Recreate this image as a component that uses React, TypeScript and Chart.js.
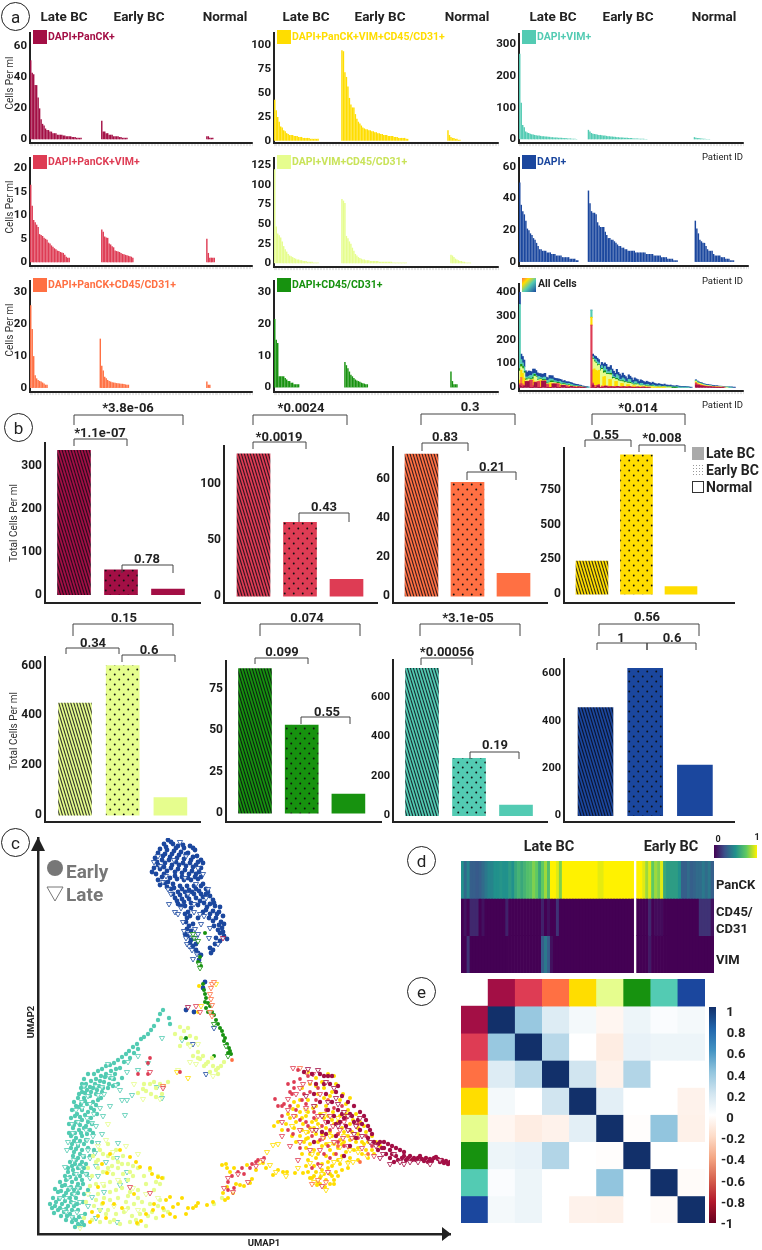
import React, { useEffect, useRef } from "react";
import { Chart, registerables } from "chart.js";
Chart.register(...registerables);
Chart.defaults.font.family = "Roboto";
Chart.defaults.animation = false as any;

const MAROON = "#a30f45", RED = "#de3c54", ORANGE = "#ff7043", YELLOW = "#ffdd00";
const LIME = "#e6fd8e", GREEN = "#17920f", TEAL = "#53cbb3", BLUE = "#1b479e";

// ---- Panel a values (cells per ml, sorted per patient) ----
const a1Late = [51,43,42,35,35,27,20,13,10,9,7,6,6,5,5,4,4,4,3,3,3,3,2.5,2.5,2,2,2,2,1.5,1.5,1.5,1,1,1,1];
const a1Early = [12,5,5,4,4,3,3,3,2,2,2,2,1.5,1.5,1,1,1,1];
const a1Normal = [2,2,1,1,1];
const a2Late = [16.5,12,9,8.5,8,7.5,6,5.8,5.6,5.2,5,4.8,4.2,4,3.6,3.3,3,2.8,2.5,2.4,2.2,2.1,2,1.6,1.2,1,1];
const a2Early = [7,6.5,5.5,5.3,5.2,4,3.8,3.4,3.2,2.5,2.4,2.3,2.2,2,1.8,1.7,1.6,1.5,1.4,1.3,1.2,1];
const a2Normal = [5,2,1,1,1,1];
const a3Late = [26,18.5,10,4,3,2.5,2.2,2,1.7,1.4,1,1];
const a3Early = [15.5,7,5.5,3.5,3,2.5,2.2,2,1.8,1.7,1.6,1.5,1.5,1.4,1.3,1.3,1.2,1.1,1,1];
const a3Normal = [2,1,1];
const a4Late = [43,32,25,20,15,14,11,10,8,7,6,6,6,5,5,5,4,4,4,3,3,3,3,3,2,2,2,2,2,2];
const a4Early = [95,94,72,67,57,45,38,35,35,28,23,20,18,16,14,13,12,12,11,11,10,10,9,9,8,8,7,7,6,6,6,5,5,5,5,4,4,4,3,3,3,3,3,2,2];
const a4Normal = [11,6,4,3,3,2,2,1,1];
const a5Late = [120,47,38,36,33,28,22,18,15,12,10,9,8,7,6,5,5,4,4,3,3,3,2,2,2,2,1,1,1,1];
const a5Early = [82,80,77,35,32,28,25,20,16,12,10,8,7,6,5,5,4,4,4,3,3,3,3,3,3,2,2,2,2,2,2,2,2,2,1,1,1,1,1,1,1,1,1,1];
const a5Normal = [11,10,8,6,5,4,3,3,2,2,1,1,1,1];
const a6Late = [21.5,15,14,3.5,3.5,3.5,3.5,3,2.5,2,2,1.5,1.5,1,1,1,1];
const a6Early = [8,7,6,5,4,3.5,3,2.5,2.2,2,1.8,1.5,1.3,1.2,1,1];
const a6Normal = [5,2,1,1,1];
const a7Late = [270,115,45,38,25,22,20,18,16,15,14,13,12,12,11,10,10,9,9,8,8,7,7,6,6,6,5,5,5,4,4,4,3,3,3,2,2,2,1];
const a7Early = [30,25,20,18,17,16,15,14,14,13,12,12,11,10,10,9,9,8,8,7,7,6,6,6,5,5,5,4,4,4,3,3,3,3,2,2,2,2,1,1];
const a7Normal = [7,5,4,4,3,3,2,2,1,1,1];
const a8Late = [50,36,32,30,26,21,20,18,17,15,14,12,10,8,8,7,7,7,6,6,6,5,5,5,4,4,4,4,3,3,3,3,3,2,2,2,2,1,1];
const a8Early = [45,37,32,31,31,30,25,23,22,22,22,19,17,15,15,14,14,13,12,11,10,10,9,9,8,8,7,7,7,7,7,6,6,6,6,6,6,6,5,5,5,5,5,4,4,4,4,4,3,3,3,3,2,2,2,2,1,1,1];
const a8Normal = [26,21,18,14,13,12,12,10,8,7,7,7,5,4,4,4,4,3,3,3,2,2,2,1,1,1];

// All cells (stacked, one list per phenotype per group)
const allMaroonLate = [8,4,0,6,24,24,24,0,0,0,20,20,0,0,0,26,26,26,0,0,0,0,14,14,14,0,0,0,8,8,8,0,0,0,4,4,0,0,0,2,2,0,0,1,1];
const allRedLate = [5,12,9,0,0,0,0,30,30,6,0,0,24,24,0,0,0,0,12,12,0,0,0,0,0,14,14,0,0,0,0,6,6,0,0,0,3,3,0,0,0,1,1];
const allOrangeLate = [4,26,6,3,0,2,2,0,0,3,3,0,0,2,2,0,0,2,2,0,0,1,1,0,0,1,1,0,0,1,1,0,0,1];
const allYellowLate = [14,30,44,30,0,0,0,0,0,24,0,0,0,0,30,0,0,0,0,0,18,18,0,0,0,0,0,12,0,0,0,0,0,6,0,0,0,0,3,0,0,0,0];
const allLimeLate = [38,15,20,22,6,6,10,2,2,2,24,24,6,6,2,2,2,2,2,2,2,2,6,6,6,2,2,3,3,3,3,2,2,2,2,2,1,1,1,1,1,1];
const allGreenLate = [10,10,10,6,6,3,3,4,4,8,8,3,3,2,2,5,5,3,3,2,2,6,6,2,2,4,4,2,2,3,3,1,1,2,2,1,1,1,1,1,1,1];
const allTealLate = [270,20,14,20,8,8,8,14,14,14,4,4,12,12,6,6,10,10,10,14,14,8,8,6,6,3,3,9,9,4,4,7,7,6,6,5,5,3,3,3,2,2,2,1,1,1,1];
const allBlueLate = [51,23,27,28,26,20,22,18,16,20,18,20,16,12,16,16,14,16,14,10,14,14,14,12,10,13,12,8,10,7,10,8,8,6,7,7,6,6,5,5,4,4,3,3,2,2,1];
const allMaroonEarly = [0,10,0,0,6,6,0,0,0,5,5,0,0,2,2,0,0,3,3,0,0,2,2,0,0,2,2,0,0,0,1,1,0,0,1,1,0,0,1,1];
const allRedEarly = [262,6,8,0,3,5,0,4,4,0,0,4,4,0,0,3,3,0,0,2,2,0,0,2,2,0,0,1,1,0,0,1,1,0,0,1,1];
const allOrangeEarly = [0,3,0,2,0,1,0,2,0,1,0,1,0,1,0,1,0,0,1,0,1,0,0,1,0,0,1,0,0,1];
const allYellowEarly = [33,55,70,70,60,60,0,0,40,40,0,0,30,30,0,0,22,22,0,0,14,14,0,0,10,10,0,0,6,6,0,0,4,4,0,0,3,3,0,0,2,2,0,0,1,1,0,0,1,1];
const allLimeEarly = [0,45,30,30,22,22,70,70,16,16,50,50,20,20,34,34,8,8,24,24,8,8,18,18,6,6,14,14,4,4,10,10,3,3,6,6,2,2,4,4,2,2,3,3,1,1,2,2,1,1,1,1,1,1];
const allGreenEarly = [0,3,4,3,5,3,4,4,8,8,3,3,4,6,6,3,3,5,5,2,2,4,4,2,2,4,4,2,2,3,3,2,1,2,2,1,2,1,1,1,1,2,1,1,1,1,1,1,1,1,0,1,1,1,0,1,0,1];
const allTealEarly = [30,8,8,12,12,6,6,11,11,18,18,8,8,14,14,5,5,16,16,6,6,12,12,3,3,12,12,4,4,10,10,3,3,8,8,2,2,7,7,2,2,5,5,2,2,4,4,1,1,3,3,1,1,2,2,1,1,2,2,1,1,1,1,1,1,1];
const allBlueEarly = [0,10,13,13,15,14,14,14,19,15,21,19,19,19,21,22,18,22,14,22,16,20,15,19,14,19,14,19,13,16,12,16,13,15,12,14,11,13,10,13,10,11,9,10,8,9,7,9,7,8,6,7,5,6,5,5,4,5,4,4,3,3,3,3,2,2,1,1];
const allMaroonNormal = [10,8,8,6,5,5,3,3,2,2,2,1,1,1,0,1,0,0,1];
const allRedNormal = [8,5,3,3,3,2,2,2,1,2,1,1,1,0,1,0,1,0,0,1];
const allOrangeNormal = [1,1,0,1];
const allYellowNormal = [4,3,3,3,2,2,2,1,2,1,1,1,1,1,1,1,0,1];
const allLimeNormal = [3,3,3,3,3,2,2,2,2,1,2,1,1,1,1,1,1,1,1,0,1,1];
const allGreenNormal = [1,1,1,0,1];
const allTealNormal = [3,3,2,2,2,2,2,2,2,2,1,2,1,1,1,1,1,1,0,1,0,1,1,1,0];
const allBlueNormal = [2,3,3,3,3,3,3,3,3,3,3,3,3,3,3,2,2,2,2,2,2,1,1,1,2,1,1];

// ---- Panel b totals: Late BC, Early BC, Normal ----
const bMaroon = [338,58,13];
const bRed = [127,66,15];
const bOrange = [73,58.5,11.7];
const bYellow = [238,1000,55];
const bLime = [450,600,70];
const bGreen = [87,53,11.5];
const bTeal = [744,290,53];
const bBlue = [457,623,214];

// ---- Panel c UMAP embeddings: flat x,y lists in UMAP units ----
const blueEarly = [130,394,126,390,135,390,140,388,146,386,152,388,122,385,129,384,136,383,143,382,150,381,157,384,159,378,125,378,132,377,139,376,146,375,153,374,160,372,119,372,127,371,134,369,141,369,148,368,155,367,163,366,116,366,122,365,129,363,137,362,144,361,151,360,158,360,118,360,124,357,132,356,139,355,146,354,153,354,160,355,127,351,135,350,142,348,149,348,156,348,165,350,133,345,140,342,147,342,154,342,161,343,168,345,137,336,144,335,151,335,158,336,165,337,172,338,140,330,166,331,172,330,177,328,160,329,147,328,153,326,168,324,175,323,181,322,147,320,152,318,178,316,171,316,183,312,148,312,155,310,160,316,176,308,184,306,149,305,153,303,182,301,186,298,150,298,156,296,178,296,152,291,158,290,172,286,175,284,158,284,163,279,161,274,165,246,167,252,148,224,156,222];
const blueEarlyB = [133,392,128,387,138,386,145,389,155,386,120,381,127,380,134,380,141,379,148,380,155,377,163,374,117,376,124,374,131,374,138,372,145,371,152,371,158,369,165,371,114,362,120,369,126,367,133,366,140,365,147,364,154,363,161,362,120,354,126,360,130,352,137,358,144,357,150,356,157,357,163,357,122,349,129,347,136,346,144,345,151,344,158,345,163,348,170,342,135,340,142,339,149,338,156,340,163,340,168,340,175,334,139,333,146,332,153,331,162,333,169,327,176,331,182,327,143,328,150,322,165,322,172,320,179,320,185,318,149,316,175,313,181,309,186,310,151,308,180,304,185,302,147,300,153,294,182,293,189,295,155,288,177,290,173,281,160,281];
const blueLate = [131,330,137,322,143,326,150,340,156,322,162,320,168,336,146,303,148,296,160,300,154,284,151,288,128,358,142,392,148,378,120,378,133,340,158,350,165,360,163,310,157,305,156,330,170,345,168,160,155,190,176,206,136,374,122,368,130,345,145,312,149,290,152,300,158,296,155,275,159,280,140,320,166,318,172,306,171,296,180,290,125,352,147,356,160,366,116,372];
const greenEarly = [162,277,160,272,163,268,165,250,166,244,167,240,168,236,167,232,170,231,172,228,168,226,170,222,176,219,178,214,180,210,182,206,184,203,185,199,187,196,186,193,189,190,191,186,192,183,190,181,193,180,167,301,174,222,148,196,176,178];
const greenLate = [161,270,162,266,160,293,156,296,155,300,176,210,188,188,190,178];
const tealEarly = [125,224,122,220,120,214,116,208,113,204,110,200,106,197,103,195,99,190,95,187,91,183,88,180,84,177,80,174,76,171,72,169,68,168,64,165,60,163,56,160,50,160,46,155,44,150,48,150,53,153,58,155,63,158,68,160,73,163,78,165,66,152,71,150,76,155,61,148,55,146,49,144,44,142,40,136,46,136,52,138,58,140,64,142,38,128,43,130,49,130,55,132,60,134,34,124,39,120,44,124,50,122,56,124,33,116,38,112,44,114,50,112,35,106,41,104,46,106,52,104,33,98,38,96,44,98,34,90,40,88,46,90,36,82,42,80,38,74,44,72,34,68,40,66,46,66,30,62,36,60,42,58,28,54,34,52,40,50,24,48,30,44,36,44,42,46,20,42,26,38,32,36,38,36,18,32,24,30,30,28,36,28,14,26,20,24,26,22,32,20,28,14,34,12,40,10,42,8,131,216,132,210];
const tealEarlyB = [52,147,57,150,62,153,67,157,72,156,77,160,82,166,86,172,92,176,96,181,100,185,47,148,43,146,41,140,47,141,53,142,59,144,65,146,70,146,75,148,80,150,84,156,36,132,41,127,47,133,53,126,58,129,63,136,37,118,42,117,47,119,53,116,59,120,31,110,36,109,42,109,48,108,54,110,31,101,37,101,43,101,49,100,55,101,36,93,42,93,48,94,54,92,33,86,38,85,44,84,50,86,56,84,35,78,40,76,46,77,52,78,32,72,37,70,42,69,48,70,30,66,35,64,44,62,49,60,27,58,32,57,38,55,44,54,22,52,27,49,33,47,39,47,45,50,50,44,17,45,23,43,28,41,34,40,40,41,46,40,15,36,21,35,27,33,33,32,39,30,45,32,12,30,17,28,22,26,28,25,34,24,40,24,16,21,23,18,29,18,35,16,41,17,47,20,38,14,44,12,46,9,37,7];
const tealLate = [89,162,71,158,64,147,78,149,100,164,84,134,89,134,94,139,87,119,60,139,44,132,49,116,54,111,35,101,49,94,60,91,80,91,57,81,79,76,89,62,89,54,82,49,40,46,32,46,35,31,54,37,62,24,79,12,34,17,39,22,27,67,29,84,42,67,119,147,124,136,110,171,124,196,144,194,56,120,40,112,48,104,52,76,60,58,65,118,72,128,40,90,45,78,38,60,28,36,26,24,48,60,55,98,46,148,70,170,90,172,100,178,52,130,34,110,30,92,22,36,44,18,58,148,66,140,74,156,82,144,50,138,44,126,62,126,38,124,58,108,64,100,36,74,50,84,58,68,68,72,30,56,52,56,66,42,36,40,42,32,50,28,58,16,28,22];
const limeEarly = [142,207,146,203,150,206,137,200,152,198,158,196,143,196,160,182,165,178,170,172,175,168,178,164,172,162,180,160,183,168,186,172,168,170,162,175,155,178,112,150,118,146,122,150,126,148,130,152,108,143,113,140,118,137,105,145,100,141,55,78,60,74,65,80,70,78,75,76,80,72,85,78,90,70,95,68,100,66,112,64,120,58,125,56,118,52,122,50,60,66,65,62,70,66,75,60,80,66,85,60,90,54,95,58,54,58,58,50,66,48,72,52,78,44,84,46,92,42,100,44,60,40,66,36,72,34,80,36,88,32,96,30,104,32,112,30,120,28,56,28,62,24,70,24,78,20,86,22,94,18,102,20,110,18,118,16,54,14,62,12,72,12,82,10,92,12,100,10,108,8,130,22,176,30,184,36,62,84,70,90,78,84,84,70,92,62,106,58,116,44,108,50,100,36,90,38,72,42,64,30,58,34,68,20,76,14,90,26,98,14,106,24,114,22,122,34,126,24,82,52,74,68,58,72,50,66,52,48,48,32,46,16,160,176,166,168,174,176,180,166,150,190,142,188,124,140,116,152,106,150];
const limeLate = [70,110,68,94,60,88,75,82,88,88,100,80,70,62,80,54,95,46,108,40,120,36,65,50,76,28,88,24,100,24,50,40,152,172,96,150,105,135,140,164,158,170,175,158,122,135,160,190,42,6,152,188];
const yellowEarly = [69,61,92,77,52,12,65,31,60,47,99,11,103,13,115,24,125,26,135,27,137,17,132,37,144,36,150,26,155,26,160,31,169,29,175,32,120,57,124,56,112,66,102,67,132,20,184,69,189,66,185,41,189,47,195,41,187,34,202,49,212,51,209,69,225,71,235,59,245,62,249,62,257,61,265,61,250,120,255,125,262,122,268,118,275,126,282,120,288,128,295,122,302,118,310,124,318,120,258,112,265,110,272,106,280,110,288,106,296,110,304,106,312,110,320,106,328,102,262,98,270,96,278,100,286,96,294,98,302,94,310,98,318,92,326,90,334,84,268,86,276,84,284,88,292,84,300,86,308,82,316,84,324,80,330,76,270,74,278,76,290,72,300,74,310,72,270,62,278,62,282,56,286,60,290,66,294,58,298,62,304,64,280,140,286,146,292,138,298,150,305,140,272,150,264,146,312,136,270,162,278,156,290,160,161,248,160,222];
const yellowEarlyB = [252,116,258,118,264,116,270,122,278,114,286,116,294,114,300,112,308,120,315,114,322,112,326,108,334,98,338,92,342,88,256,106,264,104,270,102,276,106,284,100,292,102,300,100,306,102,314,102,320,100,330,92,258,92,266,92,272,90,280,92,288,90,296,90,304,90,312,94,320,86,328,84,336,80,264,80,272,80,280,80,288,78,296,80,304,78,312,76,320,74,268,68,276,68,284,70,294,68,302,70,272,56,280,52,288,54,296,54,276,58,284,64,292,50,300,58,310,66,256,132,262,134,270,134,278,128,286,136,294,142,302,134,308,130,284,152,278,148,296,158,244,104,240,112,236,108,192,62,196,66,188,70,206,48,214,55,190,36,198,50,218,64,240,64,228,66,54,22,60,18,68,16,76,30,84,26,96,40,108,20,116,30,125,18,128,34,140,30,148,20,158,28,64,70,72,80,82,84,98,72,114,60,274,56,283,58,292,60,279,49,287,47,282,50,296,50,268,95,254,98,248,110,260,128,274,112,290,118,306,92,316,96,324,92];
const yellowLate = [235,89,229,82,222,72,232,69,310,71,315,72,329,78,275,104,292,98,302,87,272,71,150,156,139,162,240,90,178,250,163,228,254,108,268,124,282,108,296,72,306,98,288,44,276,52,260,66,248,58,238,62,286,120,300,116,268,102,312,84,292,90,274,80,284,60,302,74,320,82];
const maroonEarly = [412,72,408,73,404,74,400,75,396,76,392,75,388,76,384,75,380,76,376,76,370,76,366,78,360,74,356,72,352,76,348,80,366,82,362,84,358,86,354,88,350,90,346,92,344,86,340,84,336,92,328,114,330,108,332,104,326,118,322,122,316,128,310,132,304,138,298,142,292,150,286,158,290,158,282,160,312,120,306,116,300,124,294,132,288,140,318,96,312,88,306,78,298,98,290,112,284,102,276,92,324,110,334,100,320,114,314,118,308,108,302,112,296,118,290,124,282,132,276,140,278,150,286,150,294,158,300,148,274,160,266,162,330,96,342,92,352,84,358,78,364,76,372,78,378,74,386,73,394,73,398,77,406,71,410,70,402,72,390,72,382,78,374,74,368,74,354,80,346,86,340,90,322,104,316,112,304,120,298,110,288,100];
const maroonLate = [402,74,372,72,362,72,352,70,345,80,338,88,332,92,324,98,318,108,310,104,300,130,296,146,280,164,270,165,284,118,276,128,150,227,185,296,342,76,356,80,366,70,380,72,392,70,322,116,310,118,298,136,288,152,306,122,316,100,300,108,290,132,278,104,268,138];
const redEarly = [237,135,240,128,254,140,250,150,262,155,270,158,260,164,258,124,268,130,278,134,244,118,276,116,284,108,292,104,300,100,308,116,255,100,262,86,250,104,320,96,226,76,218,72,212,66,206,60,200,62,194,58,190,52,190,44,196,46,110,171,112,176,110,160,100,160,142,162,246,130,256,146,264,134,272,142,280,146,288,124,296,126,304,128,312,104,320,110,328,98,334,88,274,98,282,94,290,88,298,80,306,88,286,80,270,108,262,114,252,142,244,128,204,66,214,70,220,74,256,152,266,140,252,128,276,122,268,112,300,92,280,70,274,66,292,76];
const redLate = [244,112,250,124,258,140,275,160,265,150,295,108,305,96,285,96,255,166,200,60,190,56,186,46,195,42,210,52,225,74,218,68,125,146,112,162,112,41,92,47,158,228,162,222,250,135,262,146,272,152,282,140,292,118,302,104,314,96,324,86,336,78,282,84,272,84,262,104,244,98,252,88,260,74,290,62,284,48,256,118,268,126,280,118,262,92,274,104,288,112,306,112,296,92,310,88,282,68];
const orangeEarly = [290,134,300,88,322,72,330,80,194,174];
const orangeLate = [174,250,173,246,176,252,172,240,173,235,174,229,172,222,174,218,262,166,268,162,125,148,280,54,288,52,274,50];

// ---- Panel d intensities by sample ----
const panckLate = [.5,.35,.45,.3,.3,.28,.3,.35,.4,.45,.45,.5,.5,.52,.5,.5,.55,.5,.6,.65,.6,.65,.7,.72,.8,.75,.6,.75,.85,.7,1,1,.95,.8,1,1,1,1,1,1,1,1,1,1,1,1,.96,.96,1,1,1,1,1,1,1,1,1,1];
const panckEarly = [1,1,.95,.85,.95,.75,.85,.8,.95,.6,.55,.55,.55,.55,.5,.3,.3,.35,.3,.32,.35,.35,.4,.35,.4,.3];
const cdLate = [0,.05,0,.12,.12,.12,0,.05,0,0,0,0,0,0,0,.1,0,0,0,0,0,0,0,0,0,0,0,.1,0,.05,0,0,.15,0,0,0,0,0,0,0,0,0,0,0,0,0,0,0,0,0,0,0,0,0,0,0,0,0];
const cdEarly = [0,0,0,0,.12,0,.03,.03,.03,0,0,0,0,0,0,0,0,0,0,0,0,.15,.15,.15,.15,.05];
const vimLate = [0,0,.15,0,0,0,0,0,0,0,0,0,0,0,0,0,0,0,0,0,0,0,0,0,0,0,0,.3,.4,.3,.05,0,0,0,0,0,0,0,0,0,0,0,0,0,0,0,0,0,0,0,0,0,0,0,0,0,0,0];
const vimEarly = [0,0,0,0,.08,0,0,0,0,0,0,0,0,0,0,0,0,0,0,0,0,0,0,0,0,0];
const heatRowNames = ["PanCK", "CD45/CD31", "VIM"];

// ---- Panel e correlation matrix ----
const corrPalette = [MAROON, RED, ORANGE, YELLOW, LIME, GREEN, TEAL, BLUE];
const corrMatrix = [
  [1,.38,.15,.05,-.05,.08,.02,.05],
  [.38,1,.28,0,-.1,.1,.08,.08],
  [.15,.28,1,.2,-.07,.3,0,0],
  [.05,0,.2,1,.12,0,0,-.07],
  [-.05,-.1,-.07,.12,1,-.01,.4,-.08],
  [.08,.1,.3,0,-.01,1,0,0],
  [.02,.08,0,0,.4,0,1,-.02],
  [.05,.08,0,-.07,-.08,0,-.02,1],
];
const corrTicks = ["1","0.8","0.6","0.4","0.2","0","-0.2","-0.4","-0.6","-0.8","-1"];

// ---- helpers ----
const rgb = (h: string) => [1, 3, 5].map((i) => parseInt(h.slice(i, i + 2), 16));
function ramp(stops: [number, string][], v: number) {
  for (let i = 1; i < stops.length; i++) {
    if (v <= stops[i][0]) {
      const [a, ca] = stops[i - 1], [b, cb] = stops[i];
      const t = (v - a) / (b - a), p = rgb(ca), q = rgb(cb);
      return `rgb(${p.map((c, k) => Math.round(c + (q[k] - c) * t)).join(",")})`;
    }
  }
  return stops[stops.length - 1][1];
}
const VIRIDIS: [number, string][] = [[0,"#440154"],[.25,"#3b528b"],[.5,"#21918c"],[.75,"#5ec962"],[1,"#fff200"]];
const RDBU: [number, string][] = [[-1,"#67001f"],[-.8,"#b2182b"],[-.6,"#d6604d"],[-.4,"#f4a582"],[-.2,"#fddbc7"],[0,"#ffffff"],[.2,"#d1e5f0"],[.4,"#92c5de"],[.6,"#4393c3"],[.8,"#2166ac"],[.9,"#163f80"],[1,"#12306a"]];

function stripePattern(color: string) {
  const c = document.createElement("canvas"); c.width = 3; c.height = 10;
  const g = c.getContext("2d")!;
  g.fillStyle = color; g.fillRect(0, 0, 3, 10);
  g.strokeStyle = "rgba(10,10,20,.8)"; g.lineWidth = 1.1;
  for (const dx of [-3, 0, 3]) { g.beginPath(); g.moveTo(dx, 0); g.lineTo(dx + 3, 10); g.stroke(); }
  return g.createPattern(c, "repeat")!;
}
function dotPattern(color: string) {
  const c = document.createElement("canvas"); c.width = 9; c.height = 10;
  const g = c.getContext("2d")!;
  g.fillStyle = color; g.fillRect(0, 0, 9, 10);
  g.fillStyle = "#111";
  for (const [x, y] of [[2.25, 2.5], [6.75, 7.5]]) { g.beginPath(); g.arc(x, y, 0.95, 0, 7); g.fill(); }
  return g.createPattern(c, "repeat")!;
}

type Box = { l: number; t: number; r: number; b: number };
const ML = 30, MT = 6, MR = 3, MB = 6;

function Plot({ box, ml = ML, mb = MB, make }: { box: Box; ml?: number; mb?: number; make: () => any }) {
  const ref = useRef<HTMLCanvasElement>(null);
  useEffect(() => {
    const c = new Chart(ref.current!, make());
    return () => c.destroy();
  }, []);
  return (
    <canvas ref={ref} width={box.r - box.l + ml + MR} height={box.b - box.t + MT + mb}
      style={{ position: "absolute", left: box.l - ml, top: box.t - MT, display: "block" }} />
  );
}

function baseOptions() {
  return {
    responsive: false, animation: false,
    layout: { autoPadding: false, padding: { top: MT, right: MR, left: 0, bottom: 0 } },
    plugins: { legend: { display: false }, tooltip: { enabled: false }, title: { display: false } },
  } as any;
}
function yScale(box: Box, zero: number, ppu: number, ticks: number[], ml: number, size = 12) {
  return {
    type: "linear", position: "left",
    min: (zero - box.b) / ppu, max: (zero - box.t) / ppu,
    stacked: true,
    afterBuildTicks: (s: any) => { s.ticks = ticks.map((value) => ({ value })); },
    afterFit: (s: any) => { s.width = ml; },
    grid: { display: false, drawTicks: false }, border: { display: true, color: "#222", width: 2 },
    ticks: { padding: 3, color: "#1a1a1a", font: { size, weight: "bold" }, callback: (v: any) => String(v) },
  };
}

const PATIENTS = Array.from({ length: 150 }, (_, i) => String(i + 1));
function place(starts: number[], ...groups: number[][]) {
  const out: (number | null)[] = PATIENTS.map(() => null);
  groups.forEach((g, k) => g.forEach((v, i) => { out[starts[k] + i] = v; }));
  return out;
}
function xPatients(mb: number) {
  return {
    type: "category", stacked: true,
    afterFit: (s: any) => { s.height = mb; },
    grid: { display: true, drawOnChartArea: false, drawTicks: true, tickLength: 3, color: "#d4d4d4", lineWidth: 0.6 },
    border: { display: true, color: "#222", width: 2 },
    ticks: { display: false, autoSkip: false },
  };
}

const COL1 = { l: 30, r: 252 }, COL2 = { l: 274, r: 498 }, COL3 = { l: 519, r: 743 };
const aSpecs = [
  { box: { ...COL1, t: 29, b: 147 }, zero: 143, ppu: 1.66, ticks: [0,20,40,60], color: MAROON, starts: [0,48,119], d: [a1Late,a1Early,a1Normal] },
  { box: { ...COL1, t: 154, b: 270 }, zero: 266, ppu: 5.05, ticks: [0,5,10,15,20], color: RED, starts: [0,48,119], d: [a2Late,a2Early,a2Normal] },
  { box: { ...COL1, t: 277, b: 396 }, zero: 391.5, ppu: 3.4, ticks: [0,10,20,30], color: ORANGE, starts: [0,47,119], d: [a3Late,a3Early,a3Normal] },
  { box: { ...COL2, t: 29, b: 147 }, zero: 144.5, ppu: 1.02, ticks: [0,25,50,75,100], color: YELLOW, starts: [0,45,116], d: [a4Late,a4Early,a4Normal] },
  { box: { ...COL2, t: 154, b: 271 }, zero: 267, ppu: .84, ticks: [0,25,50,75,100,125], color: LIME, starts: [0,45,118], d: [a5Late,a5Early,a5Normal] },
  { box: { ...COL2, t: 277, b: 396 }, zero: 391, ppu: 3.4, ticks: [0,10,20,30], color: GREEN, starts: [0,47,118], d: [a6Late,a6Early,a6Normal] },
  { box: { ...COL3, t: 30, b: 147 }, zero: 143, ppu: .34, ticks: [0,100,200,300], color: TEAL, starts: [0,46,117], d: [a7Late,a7Early,a7Normal] },
  { box: { l: 519, r: 748, t: 154, b: 270 }, zero: 265.5, ppu: 1.7, ticks: [0,20,40,60], color: BLUE, starts: [0,45,115], d: [a8Late,a8Early,a8Normal] },
];
const allBox = { ...COL3, t: 280, b: 395 };
const allTicks = [0,100,200,300,400];
const allStarts = [0,48,118];
const allSeries = [
  { color: MAROON, d: [allMaroonLate,allMaroonEarly,allMaroonNormal] },
  { color: RED, d: [allRedLate,allRedEarly,allRedNormal] },
  { color: ORANGE, d: [allOrangeLate,allOrangeEarly,allOrangeNormal] },
  { color: YELLOW, d: [allYellowLate,allYellowEarly,allYellowNormal] },
  { color: LIME, d: [allLimeLate,allLimeEarly,allLimeNormal] },
  { color: GREEN, d: [allGreenLate,allGreenEarly,allGreenNormal] },
  { color: TEAL, d: [allTealLate,allTealEarly,allTealNormal] },
  { color: BLUE, d: [allBlueLate,allBlueEarly,allBlueNormal] },
];

const bSpecs = [
  { box: { l: 45, r: 200, t: 439, b: 607 }, zero: 598.5, ppu: .45, ticks: [0,100,200,300], color: MAROON, v: bMaroon, c0: 74, sp: 47, th: 33, fs: 12 },
  { box: { l: 224, r: 377, t: 442, b: 607 }, zero: 600, ppu: 1.18, ticks: [0,50,100], color: RED, v: bRed, c0: 253.5, sp: 46.5, th: 33, fs: 12 },
  { box: { l: 393, r: 547, t: 443, b: 607 }, zero: 600, ppu: 2.05, ticks: [0,20,40,60], color: ORANGE, v: bOrange, c0: 421.5, sp: 46, th: 33, fs: 12 },
  { box: { l: 564, r: 734, t: 444, b: 607 }, zero: 598, ppu: .147, ticks: [0,250,500,750], color: YELLOW, v: bYellow, c0: 592, sp: 44.5, th: 32, fs: 12 },
  { box: { l: 45, r: 200, t: 653, b: 826 }, zero: 819, ppu: .262, ticks: [0,200,400,600], color: LIME, v: bLime, c0: 75, sp: 47.7, th: 33, fs: 12 },
  { box: { l: 226, r: 381, t: 657, b: 826 }, zero: 817, ppu: 1.75, ticks: [0,25,50,75], color: GREEN, v: bGreen, c0: 255, sp: 46.7, th: 33, fs: 12 },
  { box: { l: 393, r: 547, t: 656, b: 826 }, zero: 819, ppu: .207, ticks: [0,200,400,600], color: TEAL, v: bTeal, c0: 422, sp: 47, th: 33, fs: 11 },
  { box: { l: 564, r: 734, t: 655, b: 826 }, zero: 819, ppu: .247, ticks: [0,200,400,600], color: BLUE, v: bBlue, c0: 595.5, sp: 49.7, th: 35, fs: 11 },
];

// x1, x2, top, left end, right end, label, label x, label y
const brackets: [number,number,number,number,number,string,number,number][] = [
  [74,183,415,425,425,"*3.8e-06",128,407],[74,127,439,446,446,"*1.1e-07",100,432],[122,173,565,573,573,"0.78",147,558],
  [253,347,415,425,425,"*0.0024",301,407],[253,306,442,449,449,"*0.0019",279,436],[299,349,513,522,522,"0.43",324,506],
  [421,515,414,425,425,"0.3",470,406],[422,468,443,451,451,"0.83",445,436],[467,516,472,480,480,"0.21",492,466],
  [592,685,414,425,425,"*0.014",638,407],[585,631,440,447,447,"0.55",606,434],[639,685,445,452,452,"*0.008",662,437],
  [73,173,624,636,636,"0.15",124,617],[66,119,648,654,654,"0.34",93,642],[122,175,655,662,662,"0.6",149,649],
  [260,360,624,636,636,"0.074",307,617],[255,308,658,664,664,"0.099",282,651],[301,350,717,724,724,"0.55",327,711],
  [420,520,624,636,636,"*3.1e-05",468,617],[421,472,658,665,665,"*0.00056",447,651],[470,519,752,759,759,"0.19",495,744],
  [599,699,624,636,636,"0.56",647,616],[597,647,643,650,650,"1",621,637],[647,696,643,650,650,"0.6",672,637],
];

function T({ x, y, s, w = 700, c = "#222", rot = 0, a = "center", children }: any) {
  const tx = a === "center" ? "-50%" : a === "right" ? "-100%" : "0";
  return (
    <div style={{ position: "absolute", left: x, top: y, whiteSpace: "nowrap", fontFamily: "Roboto", fontSize: s, fontWeight: w, color: c, lineHeight: 1,
      transform: `translate(${tx},-50%)${rot ? ` rotate(${rot}deg)` : ""}` }}>{children}</div>
  );
}
function Circle({ x, y, children }: any) {
  return (
    <div style={{ position: "absolute", left: x - 15, top: y - 15, width: 27, height: 27, border: "1.5px solid #222", borderRadius: "50%",
      display: "flex", alignItems: "center", justifyContent: "center", fontFamily: "Roboto", fontSize: 17, color: "#222", background: "#fff" }}>{children}</div>
  );
}
function Sw({ x, y, w = 14, h = 14, bg }: any) {
  return <div style={{ position: "absolute", left: x, top: y, width: w, height: h, background: bg }} />;
}

const aLabels: [number,number,string,string][] = [
  [33,30,"DAPI+PanCK+",MAROON],[33,155,"DAPI+PanCK+VIM+",RED],[33,278,"DAPI+PanCK+CD45/CD31+",ORANGE],
  [277,30,"DAPI+PanCK+VIM+CD45/CD31+",YELLOW],[277,155,"DAPI+VIM+CD45/CD31+","#c9e35a"],[277,278,"DAPI+CD45/CD31+",GREEN],
  [522,30,"DAPI+VIM+",TEAL],[522,155,"DAPI+",BLUE],
];
const headerX = [64,139,225,306,380,467,553,628,714];
const headerT = ["Late BC","Early BC","Normal"];

function pairs(f: number[]) { const o = []; for (let i = 0; i < f.length; i += 2) o.push({ x: f[i], y: f[i + 1] }); return o; }
const umapSets: [string, number[], number[], number][] = [
  [MAROON, maroonEarly, maroonLate, 2.2],[RED, redEarly, redLate, 1.9],[ORANGE, orangeEarly, orangeLate, 1.9],
  [YELLOW, [...yellowEarly, ...yellowEarlyB], yellowLate, 2],[LIME, limeEarly, limeLate, 2.2],[GREEN, greenEarly, greenLate, 2],
  [TEAL, [...tealEarly, ...tealEarlyB], tealLate, 2.2],[BLUE, [...blueEarly, ...blueEarlyB], blueLate, 2.4],
];
const umapBox = { l: 38, t: 838, r: 450, b: 1234 };
const heatBox = { l: 461, t: 861, r: 714, b: 973 };
const corrBox = { l: 461, t: 979, r: 705, b: 1223 };

export default function App() {
  return (
    <div style={{ position: "absolute", left: 0, top: 0, width: 762, height: 1250, background: "#fff", overflow: "hidden" }}>
      <style>{`body{margin:0;background:#fff}`}</style>

      {aSpecs.map((sp, i) => (
        <Plot key={"a" + i} box={sp.box} make={() => ({
          type: "bar",
          data: { labels: PATIENTS, datasets: [{ data: place(sp.starts, ...sp.d), backgroundColor: sp.color, barPercentage: .96, categoryPercentage: 1 }] },
          options: { ...baseOptions(), scales: { x: xPatients(MB), y: yScale(sp.box, sp.zero, sp.ppu, sp.ticks, ML, 11.5) } },
        })} />
      ))}
      <Plot box={allBox} make={() => ({
        type: "bar",
        data: { labels: PATIENTS, datasets: allSeries.map((s) => ({ data: place(allStarts, ...s.d), backgroundColor: s.color, barPercentage: 1, categoryPercentage: 1 })) },
        options: { ...baseOptions(), scales: { x: xPatients(MB), y: yScale(allBox, 391, .255, allTicks, ML, 11.5) } },
      })} />

      {bSpecs.map((sp, i) => (
        <Plot key={"b" + i} box={sp.box} ml={36} make={() => ({
          type: "bar",
          data: { datasets: [{
            data: sp.v.map((y, x) => ({ x, y })),
            backgroundColor: [stripePattern(sp.color), dotPattern(sp.color), sp.color],
            barThickness: sp.th,
          }] },
          options: { ...baseOptions(), scales: {
            x: { type: "linear", offset: false, min: (sp.box.l - sp.c0) / sp.sp, max: (sp.box.r - sp.c0) / sp.sp,
              afterFit: (s: any) => { s.height = MB; }, grid: { display: false }, border: { display: true, color: "#222", width: 2 }, ticks: { display: false } },
            y: { ...yScale(sp.box, sp.zero, sp.ppu, sp.ticks, 36, sp.fs), stacked: false },
          } },
        })} />
      ))}

      <Plot box={umapBox} ml={2} make={() => ({
        type: "scatter",
        data: { datasets: umapSets.flatMap(([color, early, late, r]) => [
          { data: pairs(late), backgroundColor: "rgba(255,255,255,.7)", borderColor: color, borderWidth: .8, pointStyle: "triangle", rotation: 180, pointRadius: 3 },
          { data: pairs(early), backgroundColor: color, borderWidth: 0, pointStyle: "circle", pointRadius: r },
        ]) },
        options: { ...baseOptions(), scales: {
          x: { type: "linear", min: 0, max: 412, display: true, afterFit: (s: any) => { s.height = MB; }, grid: { display: false }, border: { display: true, color: "#222", width: 2.5 }, ticks: { display: false } },
          y: { type: "linear", min: 0, max: 396, afterFit: (s: any) => { s.width = 2; }, grid: { display: false }, border: { display: true, color: "#222", width: 2.5 }, ticks: { display: false } },
        } },
      })} />

      <HeatD />
      <CorrE />

      <svg width={762} height={1250} style={{ position: "absolute", left: 0, top: 0, pointerEvents: "none" }}>
        {brackets.map(([x1, x2, top, e1, e2], i) => (
          <path key={i} d={`M${x1} ${e1}V${top}H${x2}V${e2}`} fill="none" stroke="#444" strokeWidth={1} />
        ))}
        <polygon points="38,837 31,851 45,851" fill="#222" />
        <polygon points="451,1234 442,1227 442,1241" fill="#222" />
        <circle cx={55} cy={868} r={8} fill="#777" />
        <polygon points="47,887 63,887 55,901" fill="none" stroke="#777" strokeWidth={1} />
      </svg>

      {brackets.map(([, , , , , label, x, y], i) => (
        <T key={i} x={x} y={y} s={13} w={700}>{label}</T>
      ))}

      {headerX.map((x, i) => <T key={i} x={x} y={17} s={13.5}>{headerT[i % 3]}</T>)}
      {aLabels.map(([x, y, s, c], i) => (
        <React.Fragment key={i}>
          <Sw x={x} y={y} bg={c === "#c9e35a" ? LIME : c} />
          <T x={x + 15} y={y + 7} s={10.5} c={c} a="left">{s}</T>
        </React.Fragment>
      ))}
      <Sw x={522} y={278} bg="linear-gradient(135deg,#ff7043,#ffdd00 25%,#53cbb3 55%,#1b479e)" />
      <T x={538} y={284} s={10.5} a="left">All Cells</T>
      {[157, 281, 405].map((y) => <T key={y} x={743} y={y} s={9.5} w={400} a="right">Patient ID</T>)}
      {[83, 207, 330].map((y) => <T key={y} x={10} y={y} s={10} w={400} rot={-90} c="#333">Cells Per ml</T>)}
      {[523, 731].map((y) => <T key={y} x={14} y={y} s={10} w={400} rot={-90} c="#333">Total Cells Per ml</T>)}

      <Sw x={692} y={447} w={12} h={13} bg="#aaa" />
      <Sw x={692} y={464} w={12} h={13} bg="radial-gradient(#999 35%,transparent 40%) 0 0/3px 3px" />
      <div style={{ position: "absolute", left: 692, top: 481, width: 10, height: 10, border: "1.5px solid #333" }} />
      <T x={706} y={453} s={14} a="left">Late BC</T>
      <T x={706} y={470} s={14} a="left">Early BC</T>
      <T x={706} y={487} s={14} a="left">Normal</T>

      <T x={66} y={871} s={19} c="#777" a="left">Early</T>
      <T x={66} y={894} s={19} c="#777" a="left">Late</T>
      <T x={31} y={1022} s={9.5} rot={-90}>UMAP2</T>
      <T x={264} y={1243} s={9.5}>UMAP1</T>

      <T x={549} y={847} s={14.5}>Late BC</T>
      <T x={671} y={847} s={14.5}>Early BC</T>
      <Sw x={714} y={845} w={43} h={13} bg="linear-gradient(90deg,#440154,#3b528b 25%,#21918c 50%,#5ec962 75%,#fff200)" />
      <T x={718} y={839} s={9}>0</T>
      <T x={757} y={837} s={9}>1</T>
      <T x={716} y={884} s={13} a="left">PanCK</T>
      <T x={716} y={911} s={13} a="left">CD45/</T>
      <T x={716} y={928} s={13} a="left">CD31</T>
      <T x={716} y={959} s={13} a="left">VIM</T>

      <Sw x={709} y={1007} w={7} h={216} bg="linear-gradient(180deg,#12306a,#2166ac 10%,#4393c3 20%,#92c5de 30%,#d1e5f0 40%,#fff 50%,#fddbc7 60%,#f4a582 70%,#d6604d 80%,#b2182b 90%,#67001f)" />
      {corrTicks.map((t, i) => {
        const x = t === "1" || t === "0" ? 730 : t === "-1" ? 727 : t[0] === "-" ? 733 : 736;
        return <T key={t} x={x} y={1011 + i * 21.2} s={13}>{t}</T>;
      })}

      <Circle x={16} y={17}>a</Circle>
      <Circle x={19} y={428}>b</Circle>
      <Circle x={16} y={843}>c</Circle>
      <Circle x={422} y={861}>d</Circle>
      <Circle x={422} y={992}>e</Circle>
    </div>
  );
}

function HeatD() {
  const n = panckLate.length;
  const cols = Array.from({ length: n + 1 + panckEarly.length }, (_, i) => String(i));
  const rows = [[...panckLate, null, ...panckEarly], [...cdLate, null, ...cdEarly], [...vimLate, null, ...vimEarly]];
  return (
    <Plot box={heatBox} ml={0} mb={0} make={() => ({
      type: "bar",
      data: { labels: cols, datasets: rows.map((r, k) => ({
        label: heatRowNames[k],
        data: r.map((v) => (v === null ? null : [k, k + 1])),
        backgroundColor: r.map((v) => (v === null ? "#fff" : ramp(VIRIDIS, v as number))),
        barPercentage: 1, categoryPercentage: 1, grouped: false,
      })) },
      options: { ...baseOptions(), scales: {
        x: { display: false, type: "category" },
        y: { display: false, type: "linear", min: 0, max: 3, reverse: true },
      } },
    })} />
  );
}

function CorrE() {
  const cols = ["", ...corrPalette.map((_, i) => String(i))];
  const rows = [-1, ...corrMatrix.map((_, i) => i)];
  return (
    <Plot box={corrBox} ml={0} mb={0} make={() => ({
      type: "bar",
      data: { labels: cols, datasets: rows.map((r, k) => ({
        data: cols.map((_, c) => (r < 0 && c === 0 ? null : [k, k + 1])),
        backgroundColor: cols.map((_, c) =>
          r < 0 ? (c === 0 ? "#fff" : corrPalette[c - 1]) : c === 0 ? corrPalette[r] : ramp(RDBU, corrMatrix[r][c - 1])),
        barPercentage: 1, categoryPercentage: 1, grouped: false,
      })) },
      options: { ...baseOptions(), scales: {
        x: { display: false, type: "category" },
        y: { display: false, type: "linear", min: 0, max: 9, reverse: true },
      } },
    })} />
  );
}
